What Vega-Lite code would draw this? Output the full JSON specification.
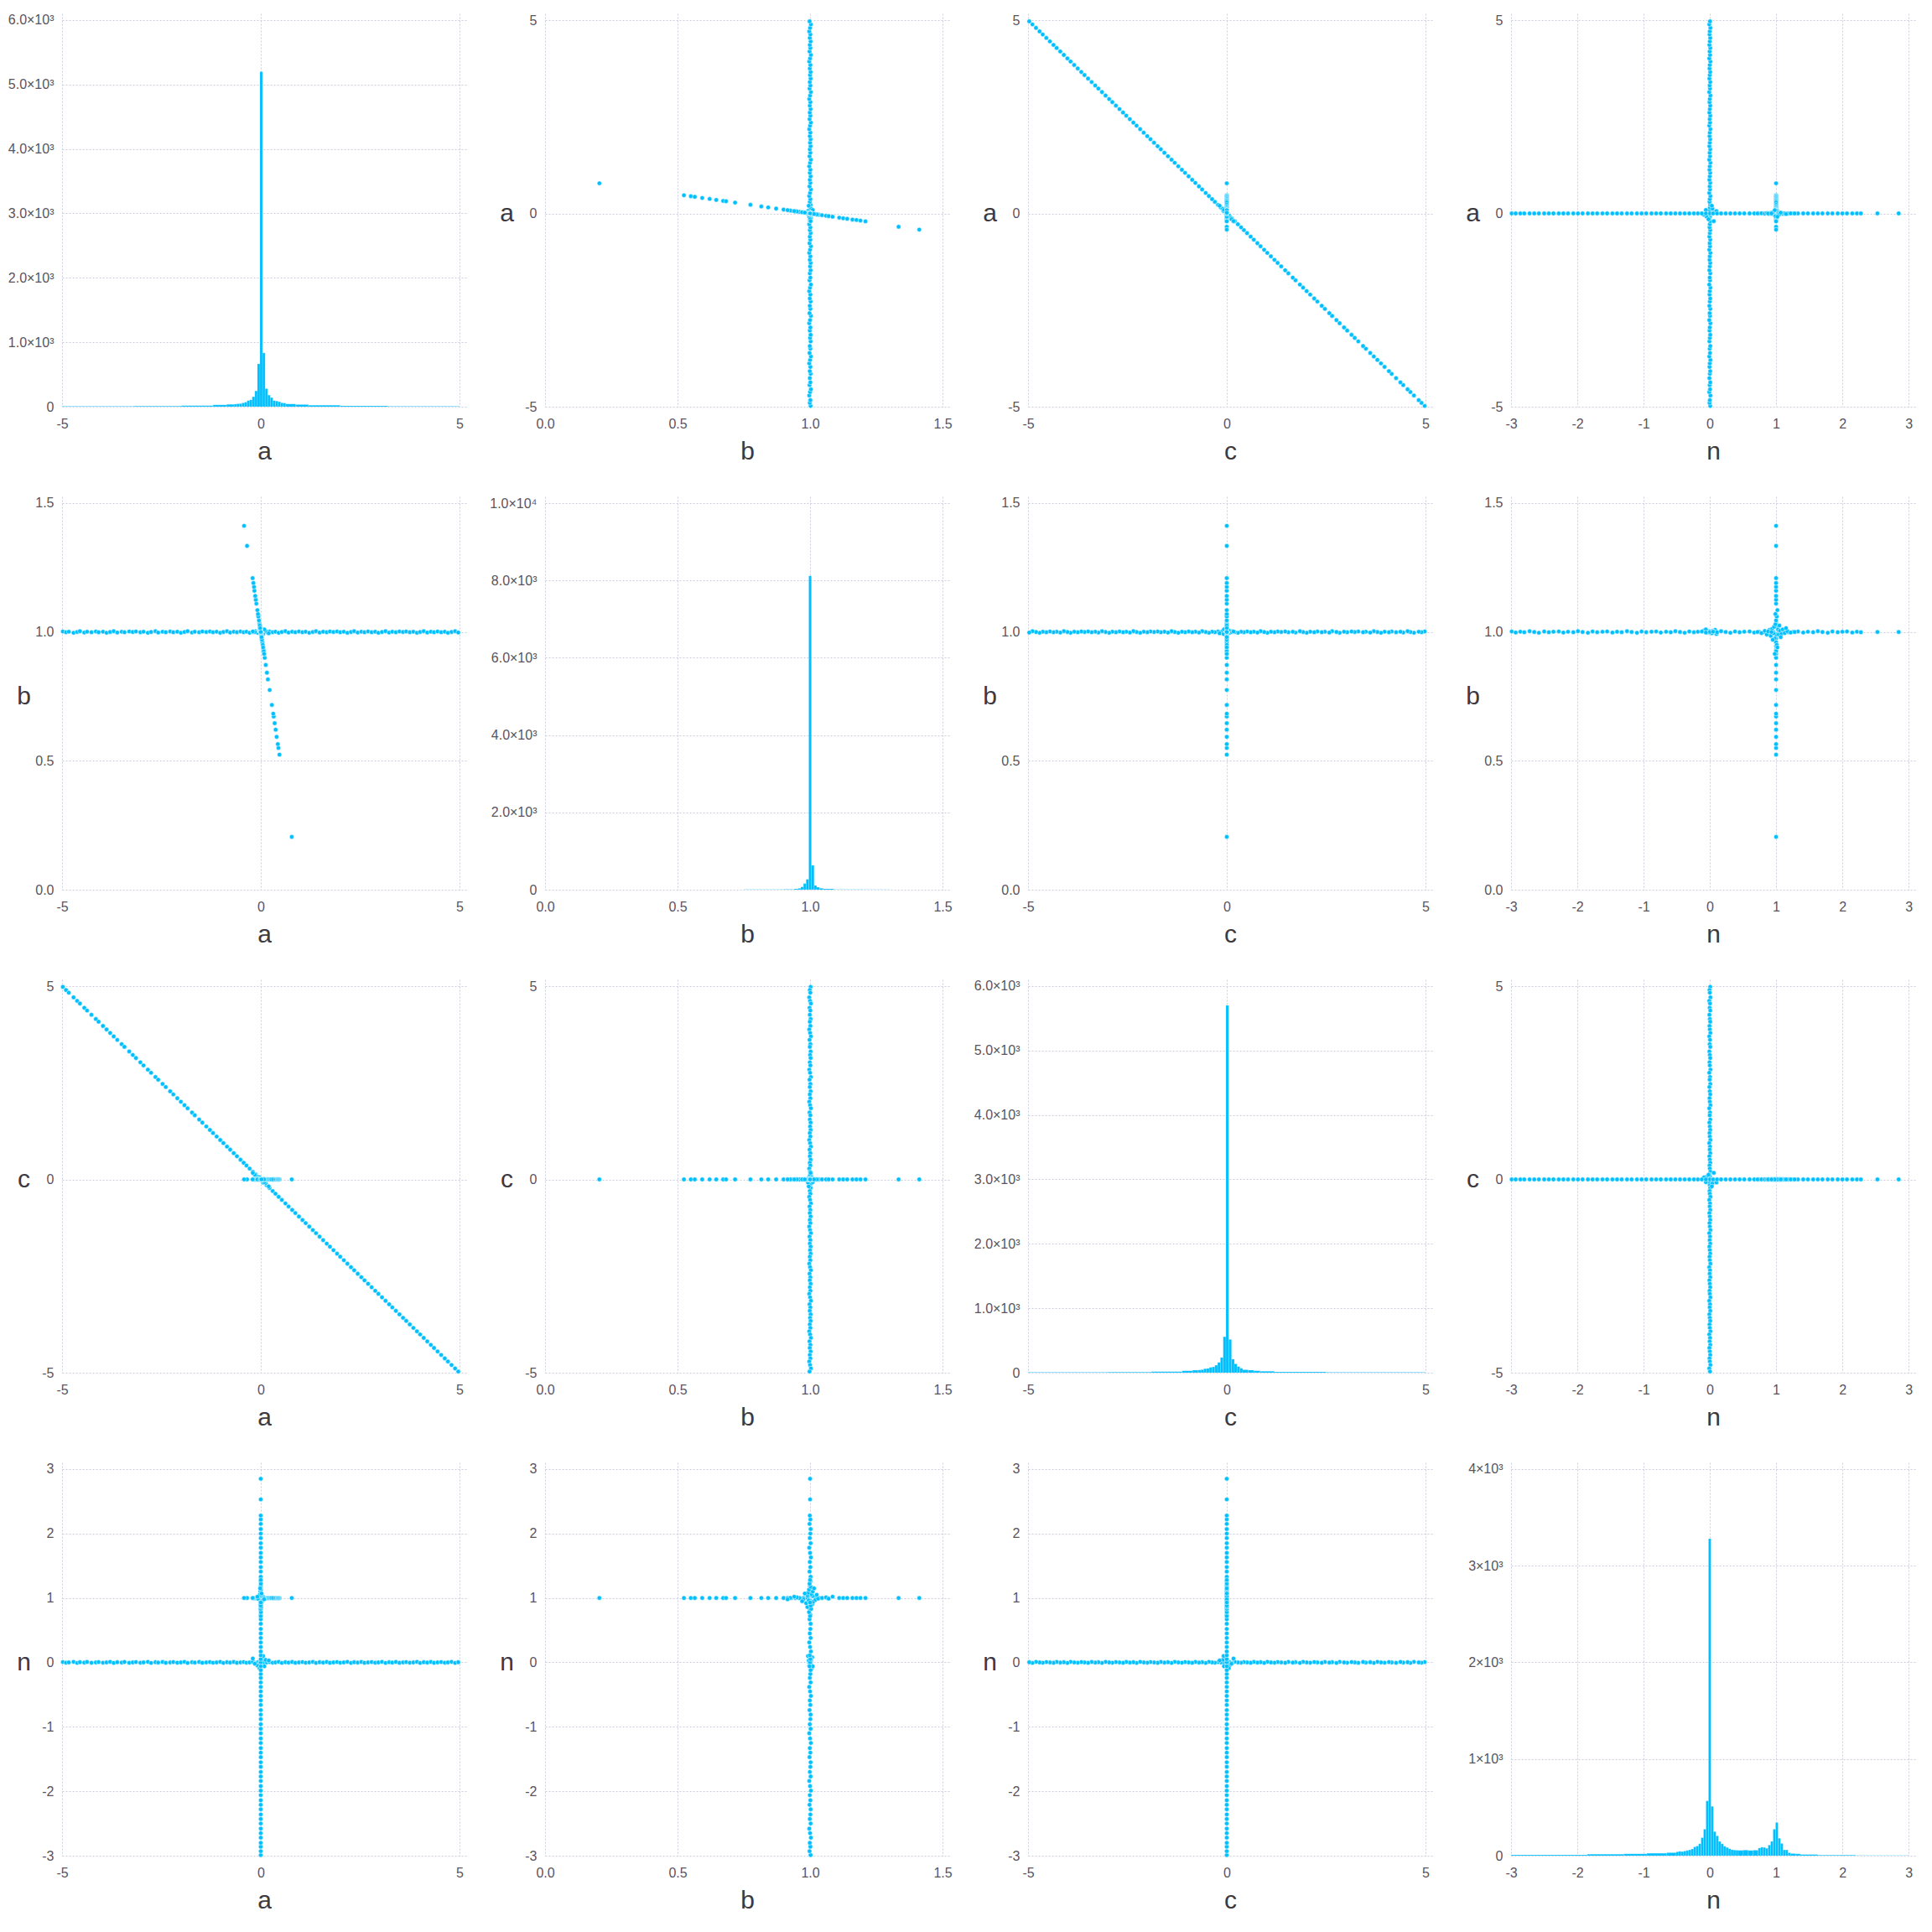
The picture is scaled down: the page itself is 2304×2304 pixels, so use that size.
{
"$schema": "https://vega.github.io/schema/vega-lite/v6.json",
"background": "white",
"padding": {"left": 9, "top": 15, "right": 5, "bottom": 5},
"bounds": "flush",
"columns": 4,
"spacing": {"row": 107, "column": 94},
"datasets": {
"pts": [
{"a":-4.98,"b":1.002,"c":4.98,"n":0.006},{"a":-4.9,"b":0.999,"c":4.9,"n":-0.004},{"a":-4.83,"b":1.001,"c":4.83,"n":0},{"a":-4.71,"b":0.997,"c":4.71,"n":0.009},{"a":-4.62,"b":1,"c":4.62,"n":-0.008},{"a":-4.55,"b":1.003,"c":4.55,"n":0.003},{"a":-4.44,"b":0.998,"c":4.44,"n":-0.002},{"a":-4.37,"b":1.001,"c":4.37,"n":0.007},{"a":-4.26,"b":0.999,"c":4.26,"n":-0.006},{"a":-4.15,"b":1.002,"c":4.15,"n":0},{"a":-4.08,"b":0.999,"c":4.08,"n":0.006},{"a":-3.97,"b":1.001,"c":3.97,"n":-0.004},{"a":-3.88,"b":0.997,"c":3.88,"n":0},{"a":-3.79,"b":1,"c":3.79,"n":0.009},{"a":-3.7,"b":1.003,"c":3.7,"n":-0.008},{"a":-3.61,"b":0.998,"c":3.61,"n":0.003},{"a":-3.5,"b":1.001,"c":3.5,"n":-0.002},{"a":-3.43,"b":0.999,"c":3.43,"n":0.007},{"a":-3.31,"b":1.002,"c":3.31,"n":-0.006},{"a":-3.22,"b":1,"c":3.22,"n":0},{"a":-3.14,"b":1.002,"c":3.14,"n":0.006},{"a":-3.03,"b":0.999,"c":3.03,"n":-0.004},{"a":-2.95,"b":1.001,"c":2.95,"n":0},{"a":-2.84,"b":0.997,"c":2.84,"n":0.009},{"a":-2.76,"b":1,"c":2.76,"n":-0.008},{"a":-2.65,"b":1.003,"c":2.65,"n":0.003},{"a":-2.58,"b":0.998,"c":2.58,"n":-0.002},{"a":-2.47,"b":1.001,"c":2.47,"n":0.007},{"a":-2.39,"b":0.999,"c":2.39,"n":-0.006},{"a":-2.28,"b":1.002,"c":2.28,"n":0},{"a":-2.2,"b":0.999,"c":2.2,"n":0.006},{"a":-2.1,"b":1.001,"c":2.1,"n":-0.004},{"a":-2.01,"b":0.997,"c":2.01,"n":0},{"a":-1.92,"b":1,"c":1.92,"n":0.009},{"a":-1.84,"b":1.003,"c":1.84,"n":-0.008},{"a":-1.73,"b":0.998,"c":1.73,"n":0.003},{"a":-1.66,"b":1.001,"c":1.66,"n":-0.002},{"a":-1.55,"b":0.999,"c":1.55,"n":0.007},{"a":-1.47,"b":1.002,"c":1.47,"n":-0.006},{"a":-1.37,"b":1,"c":1.37,"n":0},{"a":-1.28,"b":1.002,"c":1.28,"n":0.006},{"a":-1.2,"b":0.999,"c":1.2,"n":-0.004},{"a":-1.11,"b":1.001,"c":1.11,"n":0},{"a":-1.02,"b":0.997,"c":1.02,"n":0.009},{"a":-0.94,"b":1,"c":0.94,"n":-0.008},{"a":-0.85,"b":1.003,"c":0.85,"n":0.003},{"a":-0.77,"b":0.998,"c":0.77,"n":-0.002},{"a":-0.68,"b":1.001,"c":0.68,"n":0.007},{"a":-0.6,"b":0.999,"c":0.6,"n":-0.006},{"a":-0.51,"b":1.002,"c":0.51,"n":0},{"a":-0.43,"b":0.999,"c":0.43,"n":0.006},{"a":-0.36,"b":1.001,"c":0.36,"n":-0.004},{"a":-0.28,"b":0.997,"c":0.28,"n":0},{"a":-0.2,"b":1,"c":0.2,"n":0.009},{"a":-0.13,"b":1.003,"c":0.13,"n":-0.008},{"a":-0.07,"b":0.998,"c":0.07,"n":0.003},{"a":-0.02,"b":1.001,"c":0.02,"n":-0.002},{"a":0.03,"b":0.999,"c":-0.03,"n":0.007},{"a":0.09,"b":1.002,"c":-0.09,"n":-0.006},{"a":0.15,"b":1,"c":-0.15,"n":0},{"a":0.22,"b":1.002,"c":-0.22,"n":0.006},{"a":0.3,"b":0.999,"c":-0.3,"n":-0.004},{"a":0.37,"b":1.001,"c":-0.37,"n":0},{"a":0.45,"b":0.997,"c":-0.45,"n":0.009},{"a":0.53,"b":1,"c":-0.53,"n":-0.008},{"a":0.62,"b":1.003,"c":-0.62,"n":0.003},{"a":0.7,"b":0.998,"c":-0.7,"n":-0.002},{"a":0.79,"b":1.001,"c":-0.79,"n":0.007},{"a":0.87,"b":0.999,"c":-0.87,"n":-0.006},{"a":0.96,"b":1.002,"c":-0.96,"n":0},{"a":1.05,"b":0.999,"c":-1.05,"n":0.006},{"a":1.13,"b":1.001,"c":-1.13,"n":-0.004},{"a":1.22,"b":0.997,"c":-1.22,"n":0},{"a":1.31,"b":1,"c":-1.31,"n":0.009},{"a":1.39,"b":1.003,"c":-1.39,"n":-0.008},{"a":1.48,"b":0.998,"c":-1.48,"n":0.003},{"a":1.57,"b":1.001,"c":-1.57,"n":-0.002},{"a":1.66,"b":0.999,"c":-1.66,"n":0.007},{"a":1.74,"b":1.002,"c":-1.74,"n":-0.006},{"a":1.83,"b":1,"c":-1.83,"n":0},{"a":1.92,"b":1.002,"c":-1.92,"n":0.006},{"a":2.0,"b":0.999,"c":-2.0,"n":-0.004},{"a":2.09,"b":1.001,"c":-2.09,"n":0},{"a":2.18,"b":0.997,"c":-2.18,"n":0.009},{"a":2.27,"b":1,"c":-2.27,"n":-0.008},{"a":2.35,"b":1.003,"c":-2.35,"n":0.003},{"a":2.44,"b":0.998,"c":-2.44,"n":-0.002},{"a":2.53,"b":1.001,"c":-2.53,"n":0.007},{"a":2.61,"b":0.999,"c":-2.61,"n":-0.006},{"a":2.7,"b":1.002,"c":-2.7,"n":0},{"a":2.79,"b":0.999,"c":-2.79,"n":0.006},{"a":2.88,"b":1.001,"c":-2.88,"n":-0.004},{"a":2.96,"b":0.997,"c":-2.96,"n":0},{"a":3.05,"b":1,"c":-3.05,"n":0.009},{"a":3.14,"b":1.003,"c":-3.14,"n":-0.008},{"a":3.23,"b":0.998,"c":-3.23,"n":0.003},{"a":3.31,"b":1.001,"c":-3.31,"n":-0.002},{"a":3.4,"b":0.999,"c":-3.4,"n":0.007},{"a":3.49,"b":1.002,"c":-3.49,"n":-0.006},{"a":3.58,"b":1,"c":-3.58,"n":0},{"a":3.66,"b":1.002,"c":-3.66,"n":0.006},{"a":3.75,"b":0.999,"c":-3.75,"n":-0.004},{"a":3.84,"b":1.001,"c":-3.84,"n":0},{"a":3.93,"b":0.997,"c":-3.93,"n":0.009},{"a":4.01,"b":1,"c":-4.01,"n":-0.008},{"a":4.1,"b":1.003,"c":-4.1,"n":0.003},{"a":4.19,"b":0.998,"c":-4.19,"n":-0.002},{"a":4.28,"b":1.001,"c":-4.28,"n":0.007},{"a":4.36,"b":0.999,"c":-4.36,"n":-0.006},{"a":4.45,"b":1.002,"c":-4.45,"n":0},{"a":4.54,"b":0.999,"c":-4.54,"n":0.006},{"a":4.63,"b":1.001,"c":-4.63,"n":-0.004},{"a":4.71,"b":0.997,"c":-4.71,"n":0},{"a":4.8,"b":1,"c":-4.8,"n":0.009},{"a":4.89,"b":1.003,"c":-4.89,"n":-0.008},{"a":4.97,"b":0.998,"c":-4.97,"n":0.003},
{"a":0.12,"b":1.004,"c":-0.1,"n":0.04},{"a":-0.08,"b":0.997,"c":0.07,"n":-0.05},{"a":0.04,"b":1.008,"c":-0.02,"n":0.08},{"a":-0.15,"b":1.0,"c":0.12,"n":-0.02},{"a":0.2,"b":0.995,"c":-0.18,"n":0.03},{"a":-0.03,"b":1.006,"c":0.05,"n":-0.09},{"a":0.06,"b":0.992,"c":-0.08,"n":0.1},{"a":-0.2,"b":1.002,"c":0.17,"n":0.06},{"a":0.0,"b":1.0,"c":0.0,"n":0.0},{"a":0.09,"b":1.01,"c":-0.07,"n":-0.06},
{"a":0,"b":1.002,"c":0,"n":-2.99},{"a":0,"b":0.998,"c":0,"n":-2.93},{"a":0,"b":1.001,"c":0,"n":-2.86},{"a":0,"b":0.999,"c":0,"n":-2.8},{"a":0,"b":1.003,"c":0,"n":-2.72},{"a":0,"b":1,"c":0,"n":-2.65},{"a":0,"b":0.997,"c":0,"n":-2.58},{"a":0,"b":1.002,"c":0,"n":-2.5},{"a":0,"b":0.999,"c":0,"n":-2.43},{"a":0,"b":1.001,"c":0,"n":-2.36},{"a":0,"b":1.002,"c":0,"n":-2.28},{"a":0,"b":0.998,"c":0,"n":-2.21},{"a":0,"b":1.001,"c":0,"n":-2.14},{"a":0,"b":0.999,"c":0,"n":-2.06},{"a":0,"b":1.003,"c":0,"n":-1.99},{"a":0,"b":1,"c":0,"n":-1.92},{"a":0,"b":0.997,"c":0,"n":-1.84},{"a":0,"b":1.002,"c":0,"n":-1.77},{"a":0,"b":0.999,"c":0,"n":-1.7},{"a":0,"b":1.001,"c":0,"n":-1.62},{"a":0,"b":1.002,"c":0,"n":-1.55},{"a":0,"b":0.998,"c":0,"n":-1.47},{"a":0,"b":1.001,"c":0,"n":-1.4},{"a":0,"b":0.999,"c":0,"n":-1.33},{"a":0,"b":1.003,"c":0,"n":-1.25},{"a":0,"b":1,"c":0,"n":-1.18},{"a":0,"b":0.997,"c":0,"n":-1.1},{"a":0,"b":1.002,"c":0,"n":-1.03},{"a":0,"b":0.999,"c":0,"n":-0.96},{"a":0,"b":1.001,"c":0,"n":-0.88},{"a":0,"b":1.002,"c":0,"n":-0.81},{"a":0,"b":0.998,"c":0,"n":-0.74},{"a":0,"b":1.001,"c":0,"n":-0.66},{"a":0,"b":0.999,"c":0,"n":-0.59},{"a":0,"b":1.003,"c":0,"n":-0.52},{"a":0,"b":1,"c":0,"n":-0.45},{"a":0,"b":0.997,"c":0,"n":-0.38},{"a":0,"b":1.002,"c":0,"n":-0.31},{"a":0,"b":0.999,"c":0,"n":-0.24},{"a":0,"b":1.001,"c":0,"n":-0.18},{"a":0,"b":1.002,"c":0,"n":-0.12},{"a":0,"b":0.998,"c":0,"n":-0.06},{"a":0,"b":1.001,"c":0,"n":0.05},{"a":0,"b":0.999,"c":0,"n":0.11},{"a":0,"b":1.003,"c":0,"n":0.17},{"a":0,"b":1,"c":0,"n":0.24},{"a":0,"b":0.997,"c":0,"n":0.31},{"a":0,"b":1.002,"c":0,"n":0.38},{"a":0,"b":0.999,"c":0,"n":0.45},{"a":0,"b":1.001,"c":0,"n":0.52},{"a":0,"b":1.002,"c":0,"n":0.6},{"a":0,"b":0.998,"c":0,"n":0.67},{"a":0,"b":1.001,"c":0,"n":0.74},{"a":0,"b":0.999,"c":0,"n":0.82},{"a":0,"b":1.003,"c":0,"n":0.89},{"a":0,"b":1,"c":0,"n":0.96},{"a":0,"b":0.997,"c":0,"n":1.04},{"a":0,"b":1.002,"c":0,"n":1.11},{"a":0,"b":0.999,"c":0,"n":1.19},{"a":0,"b":1.001,"c":0,"n":1.26},{"a":0,"b":1.002,"c":0,"n":1.33},{"a":0,"b":0.998,"c":0,"n":1.41},{"a":0,"b":1.001,"c":0,"n":1.48},{"a":0,"b":0.999,"c":0,"n":1.56},{"a":0,"b":1.003,"c":0,"n":1.63},{"a":0,"b":1,"c":0,"n":1.7},{"a":0,"b":0.997,"c":0,"n":1.78},{"a":0,"b":1.002,"c":0,"n":1.85},{"a":0,"b":0.999,"c":0,"n":1.93},{"a":0,"b":1.001,"c":0,"n":2.0},{"a":0,"b":1.002,"c":0,"n":2.07},{"a":0,"b":0.998,"c":0,"n":2.15},{"a":0,"b":1.001,"c":0,"n":2.22},{"a":0,"b":0.999,"c":0,"n":2.28},{"a":0,"b":1,"c":0,"n":2.53},{"a":0,"b":1,"c":0,"n":2.85},
{"a":0.78,"b":0.205,"c":0,"n":1},{"a":0.47,"b":0.524,"c":0,"n":1},{"a":0.445,"b":0.55,"c":0,"n":1},{"a":0.43,"b":0.565,"c":0,"n":1},{"a":0.4,"b":0.593,"c":0,"n":1},{"a":0.375,"b":0.621,"c":0,"n":1},{"a":0.35,"b":0.646,"c":0,"n":1},{"a":0.325,"b":0.672,"c":0,"n":1},{"a":0.315,"b":0.683,"c":0,"n":1},{"a":0.28,"b":0.717,"c":0,"n":1},{"a":0.225,"b":0.775,"c":0,"n":1},{"a":0.18,"b":0.816,"c":0,"n":1},{"a":0.155,"b":0.842,"c":0,"n":1},{"a":0.125,"b":0.872,"c":0,"n":1},{"a":0.1,"b":0.9,"c":0,"n":1},{"a":0.085,"b":0.915,"c":0,"n":1},{"a":0.07,"b":0.93,"c":0,"n":1},{"a":0.055,"b":0.945,"c":0,"n":1},{"a":0.04,"b":0.96,"c":0,"n":1},{"a":0.025,"b":0.975,"c":0,"n":1},{"a":0.01,"b":0.99,"c":0,"n":1},{"a":-0.02,"b":1.02,"c":0,"n":1},{"a":-0.035,"b":1.035,"c":0,"n":1},{"a":-0.065,"b":1.066,"c":0,"n":1},{"a":-0.11,"b":1.11,"c":0,"n":1},{"a":-0.125,"b":1.125,"c":0,"n":1},{"a":-0.14,"b":1.14,"c":0,"n":1},{"a":-0.16,"b":1.16,"c":0,"n":1},{"a":-0.17,"b":1.175,"c":0,"n":1},{"a":-0.185,"b":1.19,"c":0,"n":1},{"a":-0.205,"b":1.209,"c":0,"n":1},{"a":-0.345,"b":1.334,"c":0,"n":1},{"a":-0.42,"b":1.412,"c":0,"n":1},
{"a":0,"b":1.0,"c":0,"n":0.72},{"a":0.004,"b":0.996,"c":0,"n":0.78},{"a":-0.004,"b":1.004,"c":0,"n":0.83},{"a":0.01,"b":0.99,"c":0,"n":0.86},{"a":-0.008,"b":1.008,"c":0,"n":0.9},{"a":0.015,"b":0.985,"c":0,"n":0.92},{"a":-0.012,"b":1.012,"c":0,"n":0.94},{"a":0.005,"b":0.995,"c":0,"n":0.96},{"a":-0.02,"b":1.02,"c":0,"n":0.97},{"a":0.025,"b":0.975,"c":0,"n":0.98},{"a":-0.03,"b":1.03,"c":0,"n":0.99},{"a":0.04,"b":0.96,"c":0,"n":1.0},{"a":-0.045,"b":1.045,"c":0,"n":1.0},{"a":0.05,"b":0.95,"c":0,"n":1.01},{"a":-0.06,"b":1.06,"c":0,"n":1.01},{"a":0.06,"b":0.94,"c":0,"n":1.02},{"a":-0.07,"b":1.07,"c":0,"n":0.99},{"a":0.075,"b":0.925,"c":0,"n":1.0},{"a":-0.01,"b":1.01,"c":0,"n":1.03},{"a":0.01,"b":0.99,"c":0,"n":1.04},{"a":-0.005,"b":1.005,"c":0,"n":1.06},{"a":0.008,"b":0.992,"c":0,"n":1.08},{"a":-0.01,"b":1.01,"c":0,"n":1.1},{"a":0.004,"b":0.996,"c":0,"n":1.13},{"a":-0.003,"b":1.003,"c":0,"n":1.17},{"a":0.002,"b":0.998,"c":0,"n":1.22},{"a":0,"b":1.0,"c":0,"n":1.28},{"a":-0.025,"b":1.025,"c":0,"n":1.05},{"a":0.03,"b":0.97,"c":0,"n":0.95},{"a":-0.085,"b":1.085,"c":0,"n":1.02},{"a":0.085,"b":0.915,"c":0,"n":0.98},{"a":-0.002,"b":1.002,"c":0,"n":0.88},{"a":-0.015,"b":1.015,"c":0,"n":1.15},{"a":0,"b":1.0,"c":0,"n":0.93},{"a":0.02,"b":0.98,"c":0,"n":1.07}
],
"ha": [
{"x0":-5,"x1":-3.2,"count":6},{"x0":-3.2,"x1":-2,"count":11},{"x0":-2,"x1":-1.2,"count":17},{"x0":-1.2,"x1":-0.86,"count":28},{"x0":-0.86,"x1":-0.67,"count":36},{"x0":-0.67,"x1":-0.605,"count":40},{"x0":-0.605,"x1":-0.54,"count":45},{"x0":-0.54,"x1":-0.475,"count":47},{"x0":-0.475,"x1":-0.41,"count":59},{"x0":-0.41,"x1":-0.345,"count":70},{"x0":-0.345,"x1":-0.28,"count":94},{"x0":-0.28,"x1":-0.215,"count":107},{"x0":-0.215,"x1":-0.15,"count":155},{"x0":-0.15,"x1":-0.085,"count":245},{"x0":-0.085,"x1":-0.02,"count":665},{"x0":-0.02,"x1":0.045,"count":5200},{"x0":0.045,"x1":0.11,"count":835},{"x0":0.11,"x1":0.175,"count":280},{"x0":0.175,"x1":0.24,"count":180},{"x0":0.24,"x1":0.305,"count":141},{"x0":0.305,"x1":0.37,"count":95},{"x0":0.37,"x1":0.435,"count":88},{"x0":0.435,"x1":0.5,"count":77},{"x0":0.5,"x1":0.565,"count":60},{"x0":0.565,"x1":0.63,"count":56},{"x0":0.63,"x1":0.88,"count":42},{"x0":0.88,"x1":1.2,"count":33},{"x0":1.2,"x1":2,"count":22},{"x0":2,"x1":3.2,"count":13},{"x0":3.2,"x1":5,"count":6}
],
"hb": [
{"x0":0.75,"x1":0.9,"count":5},{"x0":0.9,"x1":0.94,"count":10},{"x0":0.94,"x1":0.955,"count":22},{"x0":0.955,"x1":0.965,"count":36},{"x0":0.965,"x1":0.975,"count":73},{"x0":0.975,"x1":0.985,"count":160},{"x0":0.985,"x1":0.995,"count":269},{"x0":0.995,"x1":1.005,"count":8120},{"x0":1.005,"x1":1.015,"count":632},{"x0":1.015,"x1":1.025,"count":109},{"x0":1.025,"x1":1.035,"count":65},{"x0":1.035,"x1":1.05,"count":36},{"x0":1.05,"x1":1.09,"count":22},{"x0":1.09,"x1":1.2,"count":8},{"x0":1.2,"x1":1.3,"count":3}
],
"hc": [
{"x0":-5,"x1":-3,"count":6},{"x0":-3,"x1":-1.9,"count":10},{"x0":-1.9,"x1":-1.12,"count":17},{"x0":-1.12,"x1":-0.86,"count":30},{"x0":-0.86,"x1":-0.72,"count":39},{"x0":-0.72,"x1":-0.65,"count":42},{"x0":-0.65,"x1":-0.58,"count":47},{"x0":-0.58,"x1":-0.51,"count":62},{"x0":-0.51,"x1":-0.44,"count":66},{"x0":-0.44,"x1":-0.37,"count":82},{"x0":-0.37,"x1":-0.3,"count":90},{"x0":-0.3,"x1":-0.23,"count":116},{"x0":-0.23,"x1":-0.16,"count":159},{"x0":-0.16,"x1":-0.09,"count":236},{"x0":-0.09,"x1":-0.02,"count":558},{"x0":-0.02,"x1":0.05,"count":5700},{"x0":0.05,"x1":0.12,"count":516},{"x0":0.12,"x1":0.19,"count":210},{"x0":0.19,"x1":0.26,"count":137},{"x0":0.26,"x1":0.33,"count":95},{"x0":0.33,"x1":0.4,"count":69},{"x0":0.4,"x1":0.54,"count":47},{"x0":0.54,"x1":0.68,"count":39},{"x0":0.68,"x1":0.84,"count":30},{"x0":0.84,"x1":1.2,"count":22},{"x0":1.2,"x1":2.5,"count":12},{"x0":2.5,"x1":5,"count":6}
],
"hn": [
{"x0":-3,"x1":-1.85,"count":9},{"x0":-1.85,"x1":-1.3,"count":16},{"x0":-1.3,"x1":-0.95,"count":19},{"x0":-0.95,"x1":-0.65,"count":25},{"x0":-0.65,"x1":-0.5075,"count":31},{"x0":-0.5075,"x1":-0.47,"count":40},{"x0":-0.47,"x1":-0.4325,"count":45},{"x0":-0.4325,"x1":-0.395,"count":42},{"x0":-0.395,"x1":-0.3575,"count":48},{"x0":-0.3575,"x1":-0.32,"count":54},{"x0":-0.32,"x1":-0.2825,"count":60},{"x0":-0.2825,"x1":-0.245,"count":69},{"x0":-0.245,"x1":-0.2075,"count":91},{"x0":-0.2075,"x1":-0.17,"count":100},{"x0":-0.17,"x1":-0.1325,"count":123},{"x0":-0.1325,"x1":-0.095,"count":186},{"x0":-0.095,"x1":-0.0575,"count":274},{"x0":-0.0575,"x1":-0.02,"count":567},{"x0":-0.02,"x1":0.0175,"count":3280},{"x0":0.0175,"x1":0.055,"count":510},{"x0":0.055,"x1":0.0925,"count":249},{"x0":0.0925,"x1":0.13,"count":205},{"x0":0.13,"x1":0.1675,"count":148},{"x0":0.1675,"x1":0.205,"count":123},{"x0":0.205,"x1":0.2425,"count":98},{"x0":0.2425,"x1":0.28,"count":85},{"x0":0.28,"x1":0.3175,"count":72},{"x0":0.3175,"x1":0.355,"count":62},{"x0":0.355,"x1":0.3925,"count":58},{"x0":0.3925,"x1":0.43,"count":56},{"x0":0.43,"x1":0.505,"count":55},{"x0":0.505,"x1":0.58,"count":58},{"x0":0.58,"x1":0.655,"count":54},{"x0":0.655,"x1":0.73,"count":57},{"x0":0.73,"x1":0.7675,"count":79},{"x0":0.7675,"x1":0.805,"count":88},{"x0":0.805,"x1":0.8425,"count":85},{"x0":0.8425,"x1":0.88,"count":76},{"x0":0.88,"x1":0.9175,"count":110},{"x0":0.9175,"x1":0.955,"count":148},{"x0":0.955,"x1":0.9925,"count":274},{"x0":0.9925,"x1":1.03,"count":343},{"x0":1.03,"x1":1.0675,"count":180},{"x0":1.0675,"x1":1.105,"count":126},{"x0":1.105,"x1":1.1425,"count":60},{"x0":1.1425,"x1":1.18,"count":60},{"x0":1.18,"x1":1.2175,"count":31},{"x0":1.2175,"x1":1.2925,"count":22},{"x0":1.2925,"x1":1.3675,"count":19},{"x0":1.3675,"x1":1.63,"count":12},{"x0":1.63,"x1":2.2,"count":6},{"x0":2.2,"x1":3,"count":2}
]
},
"concat": [
{"data":{"name":"ha"},"mark":{"type":"rect","fill":"#00bfff","stroke":"#ffffff","strokeWidth":0.25,"strokeOpacity":0.6},
 "encoding":{"x":{"field":"x0","type":"quantitative","scale":{"domain":[-5,5.17],"nice":false,"zero":false},"axis":{"values":[-5,0,5],"labelExpr":"datum.value < 0 ? '-' + format(-datum.value, 'd') : format(datum.value, 'd')","title":"a"}},"x2":{"field":"x1"},
 "y":{"field":"count","type":"quantitative","scale":{"domain":[0,6104],"nice":false},"axis":{"values":[0,1000,2000,3000,4000,5000,6000],"labelExpr":"datum.value == 0 ? '0' : format(datum.value / 1000, '.1f') + '×10³'","title":null}},"y2":{"datum":0}}},
{"data":{"name":"pts"},"mark":{"type":"circle","size":28,"fill":"#00bfff","opacity":1,"stroke":"#ffffff","strokeWidth":0.5},
 "encoding":{"x":{"field":"b","type":"quantitative","scale":{"domain":[0,1.525],"nice":false,"zero":false},"axis":{"values":[0,0.5,1,1.5],"labelExpr":"format(datum.value, '.1f')","title":"b"}},
 "y":{"field":"a","type":"quantitative","scale":{"domain":[-5,5.174],"nice":false,"zero":false},"axis":{"values":[-5,0,5],"labelExpr":"datum.value < 0 ? '-' + format(-datum.value, 'd') : format(datum.value, 'd')","title":"a"}}}},
{"data":{"name":"pts"},"mark":{"type":"circle","size":28,"fill":"#00bfff","opacity":1,"stroke":"#ffffff","strokeWidth":0.5},
 "encoding":{"x":{"field":"c","type":"quantitative","scale":{"domain":[-5,5.17],"nice":false,"zero":false},"axis":{"values":[-5,0,5],"labelExpr":"datum.value < 0 ? '-' + format(-datum.value, 'd') : format(datum.value, 'd')","title":"c"}},
 "y":{"field":"a","type":"quantitative","scale":{"domain":[-5,5.174],"nice":false,"zero":false},"axis":{"values":[-5,0,5],"labelExpr":"datum.value < 0 ? '-' + format(-datum.value, 'd') : format(datum.value, 'd')","title":"a"}}}},
{"data":{"name":"pts"},"mark":{"type":"circle","size":28,"fill":"#00bfff","opacity":1,"stroke":"#ffffff","strokeWidth":0.5},
 "encoding":{"x":{"field":"n","type":"quantitative","scale":{"domain":[-3,3.1],"nice":false,"zero":false},"axis":{"values":[-3,-2,-1,0,1,2,3],"labelExpr":"datum.value < 0 ? '-' + format(-datum.value, 'd') : format(datum.value, 'd')","title":"n"}},
 "y":{"field":"a","type":"quantitative","scale":{"domain":[-5,5.174],"nice":false,"zero":false},"axis":{"values":[-5,0,5],"labelExpr":"datum.value < 0 ? '-' + format(-datum.value, 'd') : format(datum.value, 'd')","title":"a"}}}},

{"data":{"name":"pts"},"mark":{"type":"circle","size":28,"fill":"#00bfff","opacity":1,"stroke":"#ffffff","strokeWidth":0.5},
 "encoding":{"x":{"field":"a","type":"quantitative","scale":{"domain":[-5,5.17],"nice":false,"zero":false},"axis":{"values":[-5,0,5],"labelExpr":"datum.value < 0 ? '-' + format(-datum.value, 'd') : format(datum.value, 'd')","title":"a"}},
 "y":{"field":"b","type":"quantitative","scale":{"domain":[0,1.526],"nice":false,"zero":false},"axis":{"values":[0,0.5,1,1.5],"labelExpr":"format(datum.value, '.1f')","title":"b"}}}},
{"data":{"name":"hb"},"mark":{"type":"rect","fill":"#00bfff","stroke":"#ffffff","strokeWidth":0.25,"strokeOpacity":0.6},
 "encoding":{"x":{"field":"x0","type":"quantitative","scale":{"domain":[0,1.525],"nice":false,"zero":false},"axis":{"values":[0,0.5,1,1.5],"labelExpr":"format(datum.value, '.1f')","title":"b"}},"x2":{"field":"x1"},
 "y":{"field":"count","type":"quantitative","scale":{"domain":[0,10174],"nice":false},"axis":{"values":[0,2000,4000,6000,8000,10000],"labelExpr":"datum.value == 0 ? '0' : datum.value == 10000 ? '1.0×10⁴' : format(datum.value / 1000, '.1f') + '×10³'","title":null}},"y2":{"datum":0}}},
{"data":{"name":"pts"},"mark":{"type":"circle","size":28,"fill":"#00bfff","opacity":1,"stroke":"#ffffff","strokeWidth":0.5},
 "encoding":{"x":{"field":"c","type":"quantitative","scale":{"domain":[-5,5.17],"nice":false,"zero":false},"axis":{"values":[-5,0,5],"labelExpr":"datum.value < 0 ? '-' + format(-datum.value, 'd') : format(datum.value, 'd')","title":"c"}},
 "y":{"field":"b","type":"quantitative","scale":{"domain":[0,1.526],"nice":false,"zero":false},"axis":{"values":[0,0.5,1,1.5],"labelExpr":"format(datum.value, '.1f')","title":"b"}}}},
{"data":{"name":"pts"},"mark":{"type":"circle","size":28,"fill":"#00bfff","opacity":1,"stroke":"#ffffff","strokeWidth":0.5},
 "encoding":{"x":{"field":"n","type":"quantitative","scale":{"domain":[-3,3.1],"nice":false,"zero":false},"axis":{"values":[-3,-2,-1,0,1,2,3],"labelExpr":"datum.value < 0 ? '-' + format(-datum.value, 'd') : format(datum.value, 'd')","title":"n"}},
 "y":{"field":"b","type":"quantitative","scale":{"domain":[0,1.526],"nice":false,"zero":false},"axis":{"values":[0,0.5,1,1.5],"labelExpr":"format(datum.value, '.1f')","title":"b"}}}},

{"data":{"name":"pts"},"mark":{"type":"circle","size":28,"fill":"#00bfff","opacity":1,"stroke":"#ffffff","strokeWidth":0.5},
 "encoding":{"x":{"field":"a","type":"quantitative","scale":{"domain":[-5,5.17],"nice":false,"zero":false},"axis":{"values":[-5,0,5],"labelExpr":"datum.value < 0 ? '-' + format(-datum.value, 'd') : format(datum.value, 'd')","title":"a"}},
 "y":{"field":"c","type":"quantitative","scale":{"domain":[-5,5.174],"nice":false,"zero":false},"axis":{"values":[-5,0,5],"labelExpr":"datum.value < 0 ? '-' + format(-datum.value, 'd') : format(datum.value, 'd')","title":"c"}}}},
{"data":{"name":"pts"},"mark":{"type":"circle","size":28,"fill":"#00bfff","opacity":1,"stroke":"#ffffff","strokeWidth":0.5},
 "encoding":{"x":{"field":"b","type":"quantitative","scale":{"domain":[0,1.525],"nice":false,"zero":false},"axis":{"values":[0,0.5,1,1.5],"labelExpr":"format(datum.value, '.1f')","title":"b"}},
 "y":{"field":"c","type":"quantitative","scale":{"domain":[-5,5.174],"nice":false,"zero":false},"axis":{"values":[-5,0,5],"labelExpr":"datum.value < 0 ? '-' + format(-datum.value, 'd') : format(datum.value, 'd')","title":"c"}}}},
{"data":{"name":"hc"},"mark":{"type":"rect","fill":"#00bfff","stroke":"#ffffff","strokeWidth":0.25,"strokeOpacity":0.6},
 "encoding":{"x":{"field":"x0","type":"quantitative","scale":{"domain":[-5,5.17],"nice":false,"zero":false},"axis":{"values":[-5,0,5],"labelExpr":"datum.value < 0 ? '-' + format(-datum.value, 'd') : format(datum.value, 'd')","title":"c"}},"x2":{"field":"x1"},
 "y":{"field":"count","type":"quantitative","scale":{"domain":[0,6104],"nice":false},"axis":{"values":[0,1000,2000,3000,4000,5000,6000],"labelExpr":"datum.value == 0 ? '0' : format(datum.value / 1000, '.1f') + '×10³'","title":null}},"y2":{"datum":0}}},
{"data":{"name":"pts"},"mark":{"type":"circle","size":28,"fill":"#00bfff","opacity":1,"stroke":"#ffffff","strokeWidth":0.5},
 "encoding":{"x":{"field":"n","type":"quantitative","scale":{"domain":[-3,3.1],"nice":false,"zero":false},"axis":{"values":[-3,-2,-1,0,1,2,3],"labelExpr":"datum.value < 0 ? '-' + format(-datum.value, 'd') : format(datum.value, 'd')","title":"n"}},
 "y":{"field":"c","type":"quantitative","scale":{"domain":[-5,5.174],"nice":false,"zero":false},"axis":{"values":[-5,0,5],"labelExpr":"datum.value < 0 ? '-' + format(-datum.value, 'd') : format(datum.value, 'd')","title":"c"}}}},

{"data":{"name":"pts"},"mark":{"type":"circle","size":28,"fill":"#00bfff","opacity":1,"stroke":"#ffffff","strokeWidth":0.5},
 "encoding":{"x":{"field":"a","type":"quantitative","scale":{"domain":[-5,5.17],"nice":false,"zero":false},"axis":{"values":[-5,0,5],"labelExpr":"datum.value < 0 ? '-' + format(-datum.value, 'd') : format(datum.value, 'd')","title":"a"}},
 "y":{"field":"n","type":"quantitative","scale":{"domain":[-3,3.104],"nice":false,"zero":false},"axis":{"values":[-3,-2,-1,0,1,2,3],"labelExpr":"datum.value < 0 ? '-' + format(-datum.value, 'd') : format(datum.value, 'd')","title":"n"}}}},
{"data":{"name":"pts"},"mark":{"type":"circle","size":28,"fill":"#00bfff","opacity":1,"stroke":"#ffffff","strokeWidth":0.5},
 "encoding":{"x":{"field":"b","type":"quantitative","scale":{"domain":[0,1.525],"nice":false,"zero":false},"axis":{"values":[0,0.5,1,1.5],"labelExpr":"format(datum.value, '.1f')","title":"b"}},
 "y":{"field":"n","type":"quantitative","scale":{"domain":[-3,3.104],"nice":false,"zero":false},"axis":{"values":[-3,-2,-1,0,1,2,3],"labelExpr":"datum.value < 0 ? '-' + format(-datum.value, 'd') : format(datum.value, 'd')","title":"n"}}}},
{"data":{"name":"pts"},"mark":{"type":"circle","size":28,"fill":"#00bfff","opacity":1,"stroke":"#ffffff","strokeWidth":0.5},
 "encoding":{"x":{"field":"c","type":"quantitative","scale":{"domain":[-5,5.17],"nice":false,"zero":false},"axis":{"values":[-5,0,5],"labelExpr":"datum.value < 0 ? '-' + format(-datum.value, 'd') : format(datum.value, 'd')","title":"c"}},
 "y":{"field":"n","type":"quantitative","scale":{"domain":[-3,3.104],"nice":false,"zero":false},"axis":{"values":[-3,-2,-1,0,1,2,3],"labelExpr":"datum.value < 0 ? '-' + format(-datum.value, 'd') : format(datum.value, 'd')","title":"n"}}}},
{"data":{"name":"hn"},"mark":{"type":"rect","fill":"#00bfff","stroke":"#ffffff","strokeWidth":0.25,"strokeOpacity":0.6},
 "encoding":{"x":{"field":"x0","type":"quantitative","scale":{"domain":[-3,3.1],"nice":false,"zero":false},"axis":{"values":[-3,-2,-1,0,1,2,3],"labelExpr":"datum.value < 0 ? '-' + format(-datum.value, 'd') : format(datum.value, 'd')","title":"n"}},"x2":{"field":"x1"},
 "y":{"field":"count","type":"quantitative","scale":{"domain":[0,4069],"nice":false},"axis":{"values":[0,1000,2000,3000,4000],"labelExpr":"datum.value == 0 ? '0' : format(datum.value / 1000, 'd') + '×10³'","title":null}},"y2":{"datum":0}}}
],
"config": {
 "view": {"continuousWidth": 482, "continuousHeight": 469, "stroke": null},
 "axis": {"domain": false, "ticks": false, "tickSize": 0, "grid": true, "gridColor": "#cdcddc", "gridDash": [2, 2], "gridWidth": 1,
  "labelFont": "Liberation Sans", "labelFontSize": 16, "labelColor": "#59545e", "labelOverlap": false, "labelFlush": false,
  "titleFont": "Liberation Sans", "titleFontSize": 30, "titleFontWeight": "normal", "titleColor": "#3d3940"},
 "axisX": {"labelPadding": 12, "titlePadding": 10},
 "axisY": {"labelPadding": 10, "titleAngle": 0, "titleAlign": "center", "titleBaseline": "middle", "titleX": -46, "titleY": 238}
}
}
